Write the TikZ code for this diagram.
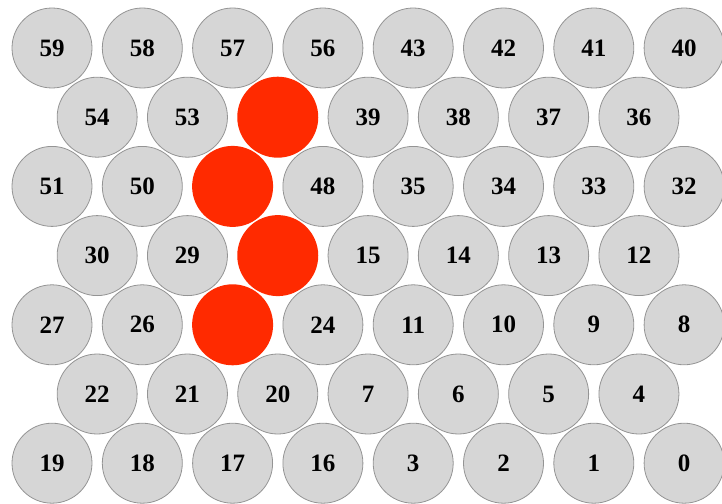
\documentclass[tikz,border=0pt]{standalone}
\usepackage{fontspec}
\setmainfont{Liberation Serif}
\definecolor{holered}{HTML}{FF2A00}
\tikzset{
  cell/.style={circle, draw=black!42, fill=black!16, line width=0.8pt,
    minimum size=80pt, inner sep=0pt, font=\fontsize{25}{25}\selectfont\bfseries},
  hole/.style={circle, fill=holered, minimum size=81pt, inner sep=0pt}
}

\begin{document}
\begin{tikzpicture}[x=1pt, y=-1pt]
    \def\dx{90.3}
    \def\dy{69.2}
    \def\ox{52}
    \def\oy{48}
    \useasboundingbox (0,0) rectangle (722,503);
    % rows of cells, top to bottom (odd rows shifted half a step)
    \foreach \n [count=\j from 0] in {59,58,57,56,43,42,41,40}
        \node[cell] (c\n) at ({\ox+\j*\dx}, \oy) {\n};
    \foreach \j/\n in {0/54,1/53,3/39,4/38,5/37,6/36}
        \node[cell] (c\n) at ({\ox+\dx/2+\j*\dx}, {\oy+\dy}) {\n};
    \foreach \j/\n in {0/51,1/50,3/48,4/35,5/34,6/33,7/32}
        \node[cell] (c\n) at ({\ox+\j*\dx}, {\oy+2*\dy}) {\n};
    \foreach \j/\n in {0/30,1/29,3/15,4/14,5/13,6/12}
        \node[cell] (c\n) at ({\ox+\dx/2+\j*\dx}, {\oy+3*\dy}) {\n};
    \foreach \j/\n in {0/27,1/26,3/24,4/11,5/10,6/9,7/8}
        \node[cell] (c\n) at ({\ox+\j*\dx}, {\oy+4*\dy}) {\n};
    \foreach \n [count=\j from 0] in {22,21,20,7,6,5,4}
        \node[cell] (c\n) at ({\ox+\dx/2+\j*\dx}, {\oy+5*\dy}) {\n};
    \foreach \n [count=\j from 0] in {19,18,17,16,3,2,1,0}
        \node[cell] (c\n) at ({\ox+\j*\dx}, {\oy+6*\dy}) {\n};
    % the red zig-zag
    \node[hole] (h1) at ({\ox+\dx/2+2*\dx}, {\oy+\dy}) {};
    \node[hole] (h2) at ({\ox+2*\dx}, {\oy+2*\dy}) {};
    \node[hole] (h3) at ({\ox+\dx/2+2*\dx}, {\oy+3*\dy}) {};
    \node[hole] (h4) at ({\ox+2*\dx}, {\oy+4*\dy}) {};
\end{tikzpicture}
\end{document}
